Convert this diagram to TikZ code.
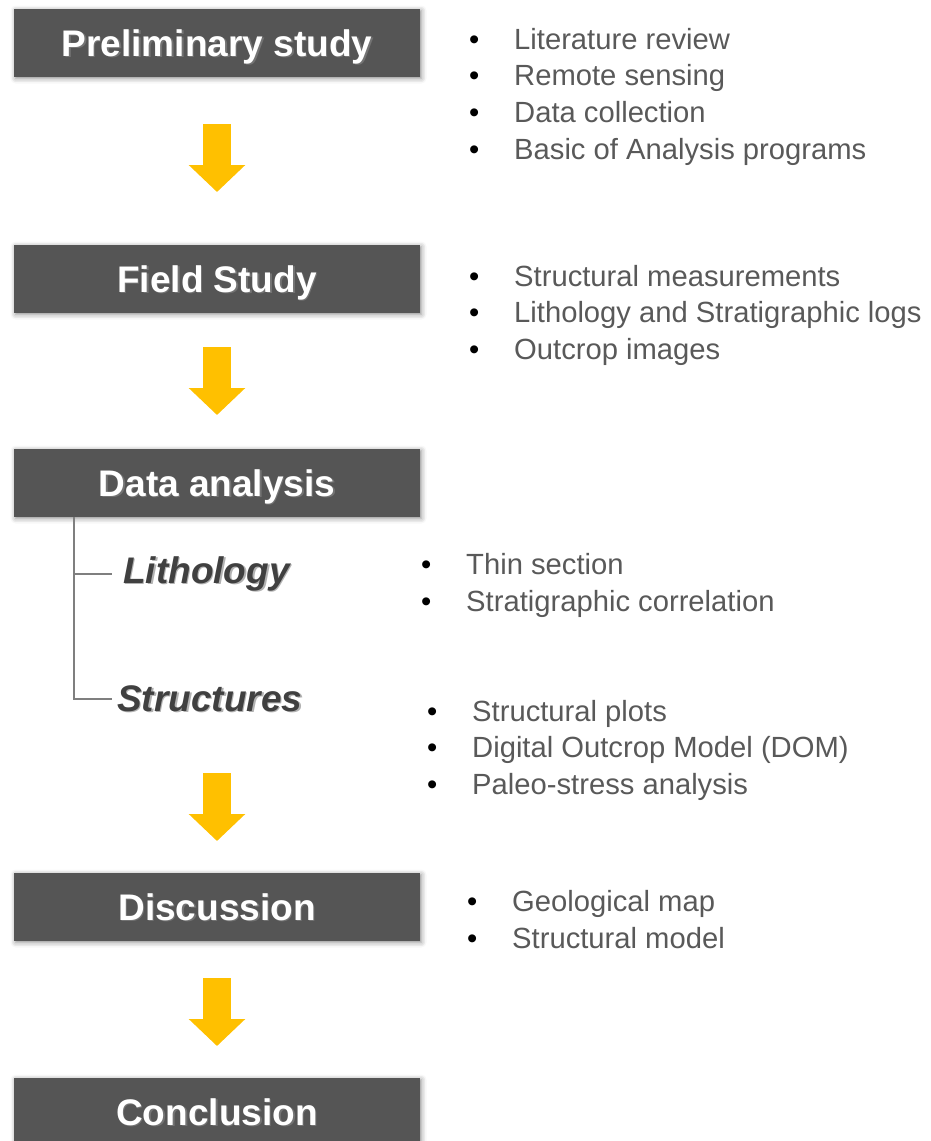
\documentclass[tikz,border=0pt]{standalone}
\usepackage{fontspec}
\setmainfont{Liberation Sans}
\usetikzlibrary{arrows.meta,positioning,shadows.blur}

\definecolor{boxGray}{HTML}{555555}
\definecolor{arrowGold}{HTML}{FFC000}
\definecolor{itemGray}{HTML}{595959}
\definecolor{labelGray}{HTML}{404040}
\definecolor{treeGray}{HTML}{7F7F7F}

% white heading text with a soft dark copy behind it
\newcommand{\dropText}[2][black!55]{%
  \makebox[0pt][l]{\kern1.5pt\raisebox{-1.5pt}{\textcolor{#1}{#2}}}#2}
% one bullet line
\newcommand{\bitem}[1]{\makebox[45pt][l]{\textcolor{black}{\textbullet}}#1}

\tikzset{%
  % Specifications for style of nodes:
        stageBox/.style = {rectangle, fill=boxGray, text=white,
                           minimum width=406pt, minimum height=68pt,
                           text height=26.5pt, text depth=0pt,
                           inner sep=0pt, outer sep=0pt, text centered,
                           font=\fontsize{37}{44}\selectfont\bfseries,
                           blur shadow={shadow xshift=1.5pt, shadow yshift=-1.5pt,
                                        shadow blur radius=5pt, shadow opacity=45}},
       stepArrow/.style = {draw=arrowGold, line width=28pt,
                           -{Triangle[width=55pt,length=27pt]}},
        subLabel/.style = {anchor=base west, inner ysep=0pt, text=labelGray,
                           font=\fontsize{37}{44}\selectfont\bfseries\itshape},
        listItem/.style = {anchor=base west, inner sep=0pt, text=itemGray,
                           font=\fontsize{29.2}{36}\selectfont},
        treeLine/.style = {draw=treeGray, line width=1.5pt},
}

\begin{document}
\begin{tikzpicture}[x=1pt, y=-1pt, node distance=236pt]

\useasboundingbox (0,0) rectangle (930,1141);

\node (PS) [stageBox] at (217,43) {\dropText{Preliminary study}};

\node (FS) [stageBox, below of=PS] {\dropText{Field Study}};

\node (DA) [stageBox, below of=FS, node distance=204pt] {\dropText{Data analysis}};

\node (DI) [stageBox, below of=DA, node distance=424pt] {\dropText{Discussion}};

\node (CO) [stageBox, below of=DI, node distance=205pt] {\dropText{Conclusion}};

\draw[stepArrow, shorten <=47pt, shorten >=53pt] (PS) -- (FS);
\draw[stepArrow, shorten <=34pt, shorten >=34pt] (FS) -- (DA);
\draw[stepArrow, shorten <=256pt, shorten >=32pt] (DA) -- (DI);
\draw[stepArrow, shorten <=37pt, shorten >=32pt] (DI) -- (CO);

% branches under Data analysis
\node (LI) [subLabel, inner xsep=11pt] at (112,583) {\dropText[black!30]{Lithology}};
\node (ST) [subLabel, inner xsep=5pt] at (112,711) {\dropText[black!30]{Structures}};

\coordinate (root) at ([xshift=60pt]DA.south west);
\draw[treeLine] (root) |- (LI.west);
\draw[treeLine] (root) |- (ST.west);

% bullet lists
\foreach \txt [count=\i from 0] in {Literature review, Remote sensing,
    Data collection, Basic of Analysis programs}
  \node (PS-\i) [listItem] at (469,{49+36.7*\i}) {\bitem{\txt}};

\foreach \txt [count=\i from 0] in {Structural measurements,
    Lithology and Stratigraphic logs, Outcrop images}
  \node (FS-\i) [listItem] at (469,{286+36.5*\i}) {\bitem{\txt}};

\foreach \txt [count=\i from 0] in {Thin section, Stratigraphic correlation}
  \node (LI-\i) [listItem] at (421,{574+37*\i}) {\bitem{\txt}};

\foreach \txt [count=\i from 0] in {Structural plots,
    Digital Outcrop Model (DOM), Paleo-stress analysis}
  \node (ST-\i) [listItem] at (427,{721+36.5*\i}) {\bitem{\txt}};

\foreach \txt [count=\i from 0] in {Geological map, Structural model}
  \node (DI-\i) [listItem] at (467,{911+37*\i}) {\bitem{\txt}};

\end{tikzpicture}
\end{document}
